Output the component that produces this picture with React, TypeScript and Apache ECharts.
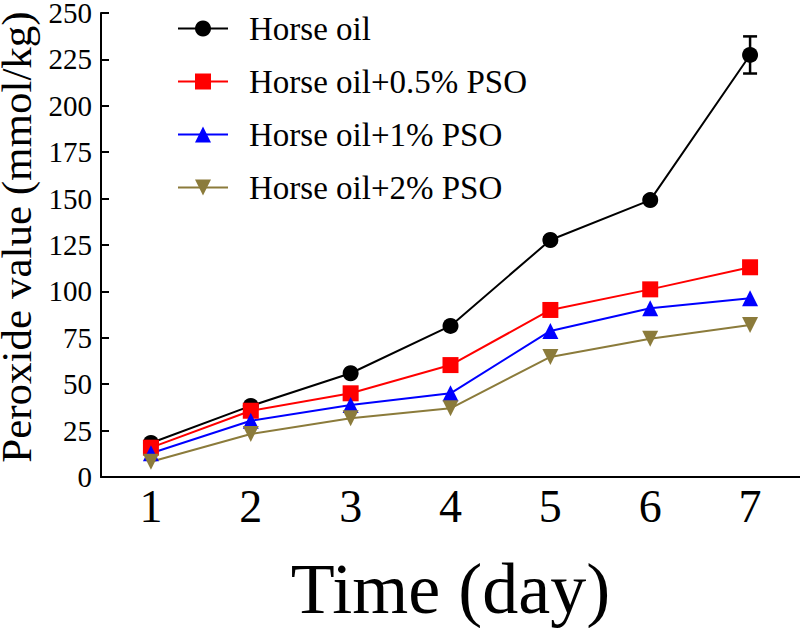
import React, { useEffect, useRef } from 'react';
import * as echarts from 'echarts';

const days = ['1', '2', '3', '4', '5', '6', '7'];
const seriesNames = ['Horse oil', 'Horse oil+0.5% PSO', 'Horse oil+1% PSO', 'Horse oil+2% PSO'];
const horseOil = [18.3, 38.3, 55.9, 81.4, 127.7, 149.2, 227.4];
const horseOil05 = [15.8, 35.7, 45.1, 60.3, 90.0, 101.1, 113.0];
const horseOil1 = [12.8, 30.3, 38.8, 45.1, 78.7, 90.9, 96.3];
const horseOil2 = [8.2, 23.2, 31.6, 37.0, 64.7, 74.5, 81.9];
const errHorseOil = [1, 1, 1, 1, 1.5, 1.5, 10];
const errHorseOil05 = [0, 0, 0, 0, 0, 0, 2.5];
const errHorseOil1 = [0, 0, 0, 0, 0, 0, 0];
const errHorseOil2 = [0, 0, 0, 0, 0, 0, 0];
const yTicks = { min: 0, max: 250, interval: 25 };

const colors = ['#000000', '#ff0000', '#0000ff', '#8b7b3b'];

export default function App() {
  const ref = useRef<HTMLDivElement>(null);
  useEffect(() => {
    const chart = echarts.init(ref.current!, null, { renderer: 'svg' });
    const font = 'Liberation Serif';

    const line = (name: string, data: number[], color: string, symbol: string, rotate = 0) => ({
      type: 'line',
      name,
      data,
      symbol,
      symbolSize: 16,
      symbolRotate: rotate,
      lineStyle: { color, width: 2 },
      itemStyle: { color },
    });

    const errBars = (data: number[], err: number[], color: string) => ({
      type: 'custom',
      data: data.map((v, i) => [i, v, err[i]]),
      encode: { x: 0, y: 1 },
      renderItem: (params: any, api: any) => {
        const x = api.value(0);
        const y = api.value(1);
        const e = api.value(2);
        if (!e) return null;
        const top = api.coord([x, y + e]);
        const bot = api.coord([x, y - e]);
        const w = 7;
        const style = { stroke: color, lineWidth: 2.5 };
        return {
          type: 'group',
          children: [
            { type: 'line', shape: { x1: top[0], y1: top[1], x2: bot[0], y2: bot[1] }, style },
            { type: 'line', shape: { x1: top[0] - w, y1: top[1], x2: top[0] + w, y2: top[1] }, style },
            { type: 'line', shape: { x1: bot[0] - w, y1: bot[1], x2: bot[0] + w, y2: bot[1] }, style },
          ],
        };
      },
    });

    chart.setOption({
      animation: false,
      backgroundColor: '#ffffff',
      textStyle: { fontFamily: font },
      grid: { left: 101, right: 0, top: 13, bottom: 151, containLabel: false, outerBoundsMode: 'none' },
      legend: {
        orient: 'vertical',
        left: 172,
        top: 7,
        itemWidth: 50,
        itemHeight: 20,
        itemGap: 20,
        data: seriesNames,
        textStyle: { fontFamily: font, fontSize: 33, color: '#000', lineHeight: 33, padding: [0, 0, 0, 16] },
      },
      xAxis: {
        type: 'category',
        data: days,
        boundaryGap: true,
        axisLine: { lineStyle: { color: '#000', width: 2 } },
        axisTick: { inside: true, length: 7, alignWithLabel: true, lineStyle: { color: '#000', width: 2 } },
        axisLabel: { fontFamily: font, fontSize: 46, color: '#000', margin: 6 },
        name: 'Time (day)',
        nameLocation: 'middle',
        nameGap: 76,
        nameTextStyle: { fontFamily: font, fontSize: 72, lineHeight: 72, color: '#000' },
        splitLine: { show: false },
      },
      yAxis: {
        type: 'value',
        min: yTicks.min,
        max: yTicks.max,
        interval: yTicks.interval,
        axisLine: { show: true, lineStyle: { color: '#000', width: 2 } },
        axisTick: { show: true, inside: true, length: 8, lineStyle: { color: '#000', width: 2 } },
        axisLabel: { fontFamily: font, fontSize: 29, lineHeight: 26, color: '#000', margin: 9 },
        name: 'Peroxide value (mmol/kg)',
        nameLocation: 'middle',
        nameGap: 57,
        nameTextStyle: { fontFamily: font, fontSize: 43, lineHeight: 43, color: '#000', padding: [0, 0, 0, 16] },
        splitLine: { show: false },
      },
      series: [
        line(seriesNames[0], horseOil, colors[0], 'circle'),
        errBars(horseOil, errHorseOil, colors[0]),
        line(seriesNames[1], horseOil05, colors[1], 'rect'),
        errBars(horseOil05, errHorseOil05, colors[1]),
        line(seriesNames[2], horseOil1, colors[2], 'triangle'),
        errBars(horseOil1, errHorseOil1, colors[2]),
        line(seriesNames[3], horseOil2, colors[3], 'triangle', 180),
        errBars(horseOil2, errHorseOil2, colors[3]),
      ],
    });
    return () => chart.dispose();
  }, []);
  return <div ref={ref} style={{ position: 'fixed', left: 0, top: 0, width: 800, height: 628 }} />;
}
